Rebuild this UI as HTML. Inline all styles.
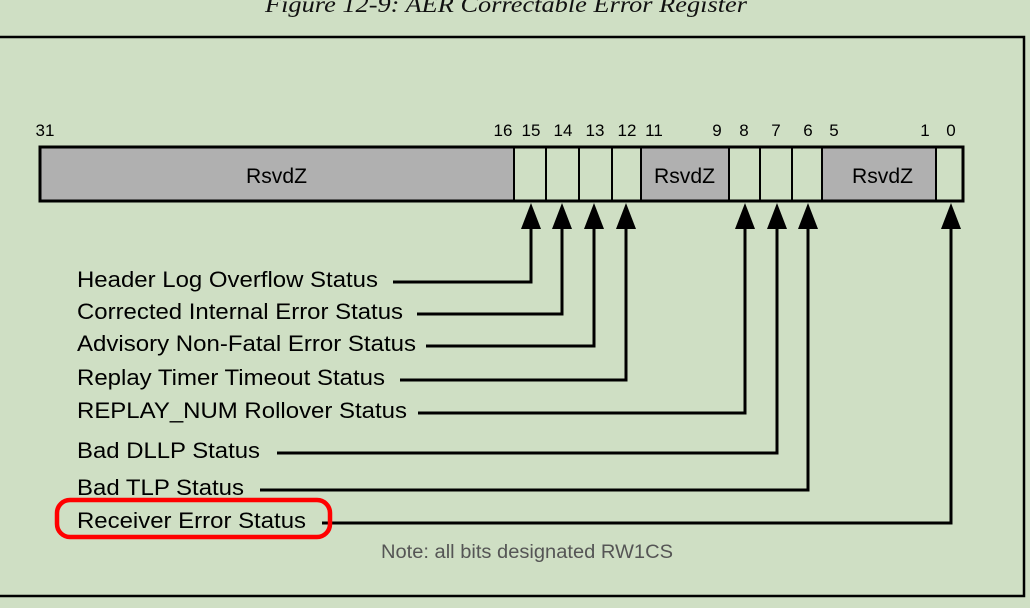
<!DOCTYPE html>
<html><head><meta charset="utf-8"><style>
html,body{margin:0;padding:0;background:#cfdfc4;width:1030px;height:608px;overflow:hidden}
svg{display:block}
text{font-family:"Liberation Sans",Arial,sans-serif}
</style></head><body>
<svg width="1030" height="608" viewBox="0 0 1030 608" xmlns="http://www.w3.org/2000/svg">
<rect width="1030" height="608" fill="#cfdfc4"/>
<text x="265" y="12" textLength="482" lengthAdjust="spacingAndGlyphs" font-style="italic" font-size="23" fill="#111" style="font-family:'Liberation Serif',serif">Figure 12-9: AER Correctable Error Register</text>
<rect x="-5" y="37" width="1029" height="559" fill="none" stroke="#000" stroke-width="2.5"/>
<g font-size="17" fill="#000" text-anchor="middle">
<text x="45" y="136">31</text><text x="503" y="136">16</text><text x="531" y="136">15</text><text x="563" y="136">14</text><text x="595" y="136">13</text><text x="627" y="136">12</text><text x="654" y="136">11</text><text x="717" y="136">9</text><text x="744" y="136">8</text><text x="776" y="136">7</text><text x="808" y="136">6</text><text x="834" y="136">5</text><text x="925" y="136">1</text><text x="951" y="136">0</text>
</g>
<rect x="40" y="147" width="474" height="54" fill="#b0b0b0"/>
<rect x="641" y="147" width="88" height="54" fill="#b0b0b0"/>
<rect x="822" y="147" width="114" height="54" fill="#b0b0b0"/>
<rect x="40" y="147" width="923" height="54" fill="none" stroke="#000" stroke-width="3"/>
<g stroke="#000" stroke-width="2">
<line x1="514" y1="147" x2="514" y2="201"/><line x1="546" y1="147" x2="546" y2="201"/><line x1="579" y1="147" x2="579" y2="201"/><line x1="612" y1="147" x2="612" y2="201"/><line x1="641" y1="147" x2="641" y2="201"/><line x1="729" y1="147" x2="729" y2="201"/><line x1="760" y1="147" x2="760" y2="201"/><line x1="792" y1="147" x2="792" y2="201"/><line x1="822" y1="147" x2="822" y2="201"/><line x1="936" y1="147" x2="936" y2="201"/>
</g>
<g font-size="21" fill="#000">
<text x="246" y="183" textLength="61" lengthAdjust="spacingAndGlyphs">RsvdZ</text>
<text x="654" y="183" textLength="61" lengthAdjust="spacingAndGlyphs">RsvdZ</text>
<text x="852" y="183" textLength="61" lengthAdjust="spacingAndGlyphs">RsvdZ</text>
</g>
<g fill="none" stroke="#000" stroke-width="3">
<polyline points="393,282 531,282 531,215"/>
<polyline points="417,314 562,314 562,215"/>
<polyline points="426,346 594,346 594,215"/>
<polyline points="400,380 626,380 626,215"/>
<polyline points="418,413 745,413 745,215"/>
<polyline points="277,453 777,453 777,215"/>
<polyline points="260,490 808,490 808,215"/>
<polyline points="322,523 951,523 951,215"/>
</g>
<g fill="#000">
<polygon points="531,203 521,229 541,229"/><polygon points="562,203 552,229 572,229"/><polygon points="594,203 584,229 604,229"/><polygon points="626,203 616,229 636,229"/><polygon points="745,203 735,229 755,229"/><polygon points="777,203 767,229 787,229"/><polygon points="808,203 798,229 818,229"/><polygon points="951,203 941,229 961,229"/>
</g>
<g font-size="22" fill="#000" lengthAdjust="spacingAndGlyphs">
<text x="77" y="287" textLength="301" lengthAdjust="spacingAndGlyphs">Header Log Overflow Status</text>
<text x="77" y="319" textLength="326" lengthAdjust="spacingAndGlyphs">Corrected Internal Error Status</text>
<text x="77" y="351" textLength="339" lengthAdjust="spacingAndGlyphs">Advisory Non-Fatal Error Status</text>
<text x="77" y="385" textLength="308" lengthAdjust="spacingAndGlyphs">Replay Timer Timeout Status</text>
<text x="77" y="418" textLength="330" lengthAdjust="spacingAndGlyphs">REPLAY_NUM Rollover Status</text>
<text x="77" y="458" textLength="183" lengthAdjust="spacingAndGlyphs">Bad DLLP Status</text>
<text x="77" y="495" textLength="167" lengthAdjust="spacingAndGlyphs">Bad TLP Status</text>
<text x="77" y="528" textLength="229" lengthAdjust="spacingAndGlyphs">Receiver Error Status</text>
</g>
<rect x="57" y="500" width="273" height="37" rx="13" fill="none" stroke="#f00" stroke-width="4.5"/>
<text x="381" y="558" textLength="292" lengthAdjust="spacingAndGlyphs" font-size="19" fill="#555">Note: all bits designated RW1CS</text>
</svg>
</body></html>
